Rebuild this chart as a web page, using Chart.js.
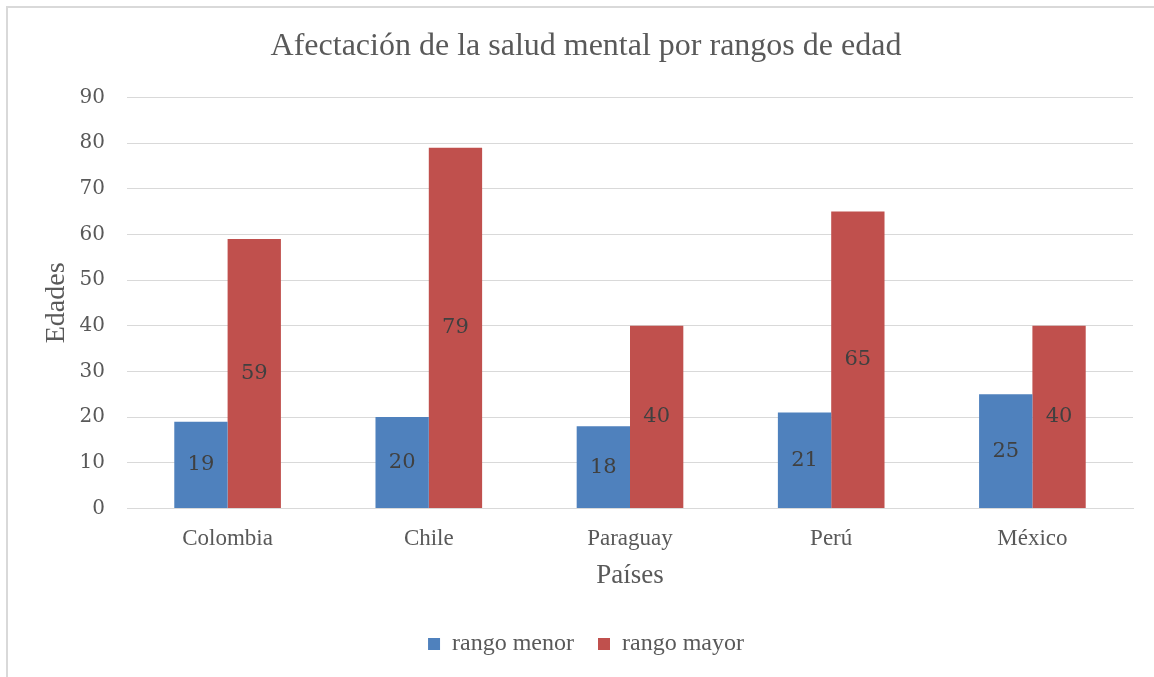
<!DOCTYPE html>
<html>
<head>
<meta charset="utf-8">
<script src="https://cdn.jsdelivr.net/npm/chart.js@4.4.0/dist/chart.umd.min.js"></script>
<style>
  html, body { margin: 0; padding: 0; background: #fff; }
  #chart { position: absolute; left: 0; top: 0; }
  #frame {
    position: absolute; left: 6px; top: 6px; width: 1160px; height: 680px;
    border-left: 2px solid #d9d9d9; border-top: 2px solid #d9d9d9;
  }
</style>
</head>
<body>
<canvas id="chart" width="1154" height="677"></canvas>
<div id="frame"></div>
<script>
// data
const paises = ["Colombia", "Chile", "Paraguay", "Perú", "México"];
const rangoMenor = [19, 20, 18, 21, 25];
const rangoMayor = [59, 79, 40, 65, 40];

const serif = "'Liberation Serif', 'Times New Roman', serif";
const numFont = "'DejaVu Serif', serif";
const grey = "#595959";

// draw the value in the middle of each bar
const barLabels = {
  id: "barLabels",
  afterDatasetsDraw(chart) {
    const ctx = chart.ctx;
    ctx.save();
    ctx.font = "21px " + numFont;
    ctx.fillStyle = "#404040";
    ctx.textAlign = "center";
    ctx.textBaseline = "middle";
    chart.data.datasets.forEach(function(ds, i) {
      chart.getDatasetMeta(i).data.forEach(function(bar, j) {
        const mid = (bar.y + bar.base) / 2;
        ctx.fillText(ds.data[j], bar.x, mid);
      });
    });
    ctx.restore();
  }
};

new Chart(document.getElementById("chart"), {
  type: "bar",
  data: {
    labels: paises,
    datasets: [
      { label: "rango menor", data: rangoMenor, backgroundColor: "#4f81bd" },
      { label: "rango mayor", data: rangoMayor, backgroundColor: "#c0504d" }
    ]
  },
  options: {
    responsive: false,
    animation: false,
    layout: { padding: { left: 39, right: 21, top: 0, bottom: 11 } },
    datasets: { bar: { categoryPercentage: 0.53, barPercentage: 1 } },
    plugins: {
      title: {
        display: true,
        text: "Afectación de la salud mental por rangos de edad",
        color: grey,
        font: { family: serif, size: 32, weight: "normal" },
        padding: { top: 27, bottom: 32 }
      },
      legend: {
        position: "bottom",
        labels: {
          color: grey,
          font: { family: serif, size: 24 },
          boxWidth: 12,
          boxHeight: 12,
          padding: 24
        }
      },
      tooltip: { enabled: false }
    },
    scales: {
      x: {
        grid: { display: false },
        border: { color: "#d9d9d9", width: 1 },
        ticks: { color: grey, font: { family: serif, size: 23 }, padding: 9 },
        title: {
          display: true, text: "Países", color: grey,
          font: { family: serif, size: 27, lineHeight: 1 }, padding: { top: 0, bottom: 19 }
        }
      },
      y: {
        min: 0, max: 90,
        afterFit: function(scale) { scale.width = 88; },
        ticks: { stepSize: 10, color: grey, font: { family: numFont, size: 20 }, padding: 22 },
        grid: { color: "#d9d9d9", drawTicks: false },
        border: { display: false },
        title: {
          display: true, text: "Edades", color: grey,
          font: { family: serif, size: 28 }, padding: { top: 1, bottom: 0 }
        }
      }
    }
  },
  plugins: [barLabels]
});
</script>
</body>
</html>
